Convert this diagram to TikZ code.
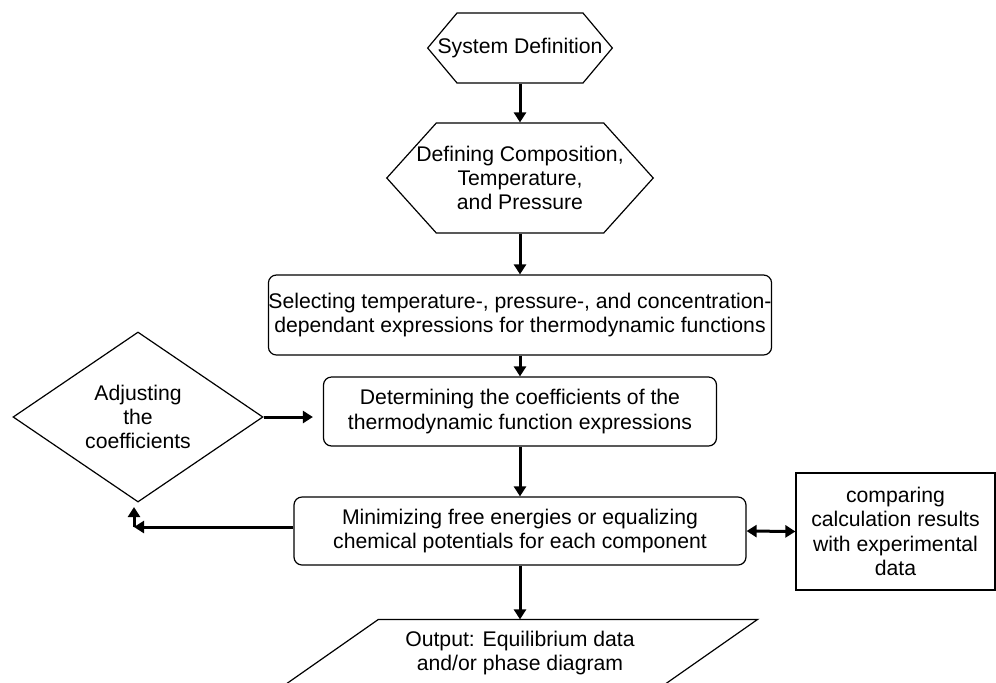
\documentclass[tikz,border=0pt]{standalone}
\usepackage{fontspec}
\setmainfont{Liberation Sans}
\usetikzlibrary{shapes.geometric,shapes.symbols,arrows.meta}

\begin{document}
\begin{tikzpicture}[x=0.5pt,y=-0.5pt,
  every node/.style={font=\fontsize{10.6}{12.2}\selectfont, align=center, line width=0.6pt},
  hexbox/.style={draw, signal, signal to=west and east, inner ysep=0pt},
  roundbox/.style={draw, rounded corners=4pt, inner sep=0pt},
  plainbox/.style={draw, inner sep=0pt},
  decision/.style={draw, diamond, inner sep=0pt},
  iobox/.style={inner sep=0pt, minimum width=189pt, minimum height=33pt},
  flow/.style={line width=1.5pt, -{Triangle[length=5pt,width=6pt]}}]
  \clip (0,0) rectangle (996,682);
  % main column
  \node[hexbox, inner xsep=-9.75pt, minimum height=35pt, signal pointer angle=100] (sysdef) at (520,48) {System Definition};
  \node[hexbox, inner xsep=-10pt, minimum height=55pt, signal pointer angle=96] (compdef) at (520,178) {Defining Composition,\\Temperature,\\and Pressure};
  \node[roundbox, minimum width=248pt, minimum height=40pt] (select) at (520,315) {Selecting temperature-, pressure-, and concentration-\\dependant expressions for thermodynamic functions};
  \node[roundbox, minimum width=196.5pt, minimum height=34.5pt] (determine) at (520,411.5) {Determining the coefficients of the\\thermodynamic function expressions};
  \node[roundbox, minimum width=226pt, minimum height=34pt] (minimize) at (520,531) {Minimizing free energies or equalizing\\chemical potentials for each component};
  \node[iobox] (output) at (520,653) {Output: Equilibrium data\\and/or phase diagram};
  % slanted outline of the output box
  \draw[line width=0.6pt] ([xshift=24pt]output.north west) -- ([xshift=24pt]output.north east)
    -- ([xshift=-24pt]output.south east) -- ([xshift=-24pt]output.south west) -- cycle;
  % side nodes
  \node[decision, minimum width=125pt, minimum height=85pt] (adjust) at (138,417) {Adjusting\\the\\coefficients};
  \node[plainbox, minimum width=99.5pt, minimum height=58.5pt] (compare) at (895.5,531.5) {comparing\\calculation results\\with experimental\\data};
  \coordinate (corner) at (134,527);
  \coordinate (cornertop) at (134,507);

  \foreach \from/\to in {sysdef/compdef, compdef/select, select/determine, determine/minimize, minimize/output}
    \draw[flow] (\from.south) -- (\to.north);
  \draw[flow, shorten >=5pt] (adjust.east) -- (adjust.east -| determine.west);
  \draw[flow] (corner -| minimize.west) -- (corner);
  \draw[flow] (corner) -- (cornertop);
  \draw[flow, {Triangle[length=5pt,width=6pt]}-{Triangle[length=5pt,width=6pt]}] (minimize.east) -- (compare.west);
\end{tikzpicture}
\end{document}
